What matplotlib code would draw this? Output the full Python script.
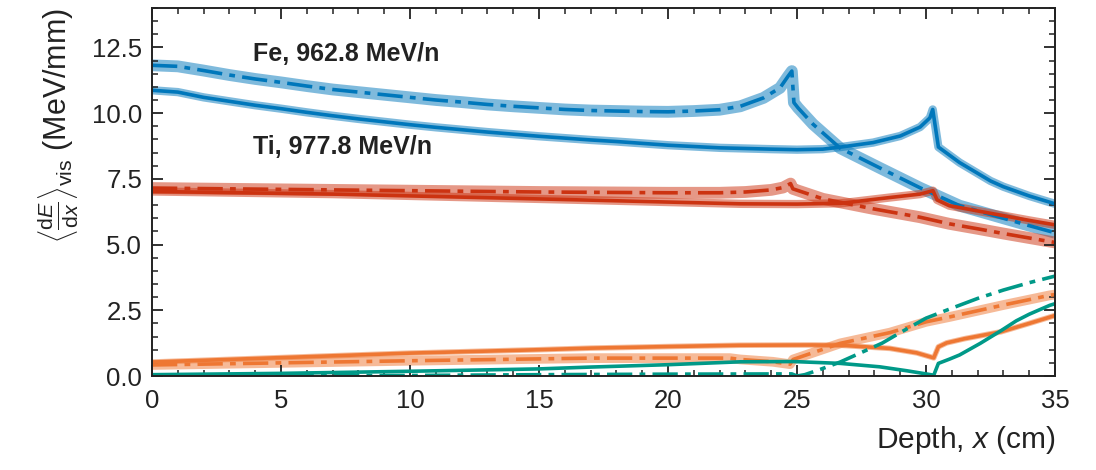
import matplotlib
matplotlib.use("Agg")
import matplotlib.pyplot as plt
from matplotlib.ticker import MultipleLocator

plt.rcParams['font.family'] = ['Liberation Sans', 'DejaVu Sans']
plt.rcParams['mathtext.fontset'] = 'custom'
plt.rcParams['mathtext.rm'] = 'Liberation Sans'
plt.rcParams['mathtext.it'] = 'Liberation Sans:italic'
plt.rcParams['mathtext.bf'] = 'Liberation Sans:bold'

# ---------------- data ----------------
fe_total_x = [0, 1, 2, 3, 4, 5, 6, 7, 8, 9, 10, 11, 12, 13, 14, 15, 16, 17, 18, 19, 20, 21, 22,
              22.8, 23.7, 24.34, 24.65, 24.8, 24.88, 25.04, 25.62, 26.67, 28.2, 29.77, 31.3, 33, 34, 35]
fe_total_y = [11.82, 11.78, 11.62, 11.45, 11.3, 11.17, 11.03, 10.9, 10.8, 10.7, 10.6, 10.5, 10.42,
              10.33, 10.26, 10.2, 10.14, 10.1, 10.08, 10.06, 10.05, 10.08, 10.13,
              10.26, 10.58, 10.96, 11.4, 11.6, 10.4, 10.2, 9.58, 8.67, 7.92, 7.16, 6.48, 6.0, 5.72, 5.45]

ti_total_x = [0, 1, 2, 3, 4, 5, 6, 7, 8, 9, 10, 11, 12, 13, 14, 15, 16, 17, 18, 19, 20, 21, 22,
              22.8, 24, 25, 26, 26.7, 27.95, 29, 29.77, 30.15, 30.26, 30.48, 31.3, 32.5, 33, 34, 35]
ti_total_y = [10.87, 10.8, 10.6, 10.45, 10.3, 10.17, 10.03, 9.9, 9.78, 9.67, 9.56, 9.46, 9.37,
              9.28, 9.2, 9.12, 9.05, 8.98, 8.92, 8.85, 8.78, 8.73, 8.68,
              8.66, 8.63, 8.61, 8.63, 8.71, 8.88, 9.13, 9.47, 9.82, 10.14, 8.71, 8.12, 7.42, 7.2, 6.85, 6.55]

fe_prim_x = [0, 5, 10, 15, 20, 22, 23, 24, 24.46, 24.75, 24.84, 26, 27.95, 29.77, 30.9, 32, 33, 34, 35]
fe_prim_y = [7.15, 7.1, 7.05, 7.0, 6.97, 6.97, 7.0, 7.08, 7.17, 7.32, 7.12, 6.74, 6.36, 6.04,
             5.79, 5.6, 5.42, 5.25, 5.08]

ti_prim_x = [0, 7, 17, 22.8, 25, 26.7, 28.6, 29.77, 30.27, 30.43, 30.9, 32, 33, 34, 35]
ti_prim_y = [7.02, 6.92, 6.69, 6.55, 6.54, 6.57, 6.79, 6.92, 7.05, 6.7, 6.48, 6.28, 6.1, 5.92, 5.75]

ti_frag_x = [0, 5, 10, 15, 17, 20, 22.8, 25.6, 26.7, 28.6, 29.64, 30.3, 30.48, 30.8, 31.5, 32.9, 34, 35]
ti_frag_y = [0.53, 0.7, 0.87, 1.0, 1.06, 1.12, 1.17, 1.18, 1.17, 1.05, 0.88, 0.69, 1.11, 1.26,
             1.42, 1.68, 2.0, 2.3]

fe_frag_x = [0, 5, 10, 17, 22.4, 22.8, 24.07, 24.73, 24.85, 26.67, 28.6, 30.0, 30.93, 33, 34.8, 35]
fe_frag_y = [0.42, 0.5, 0.58, 0.68, 0.68, 0.63, 0.54, 0.45, 0.63, 1.24, 1.65, 2.06, 2.25, 2.7, 3.07, 3.1]

ti_light_x = [0, 5, 10, 15, 17, 20, 22.8, 24.85, 26.67, 28.2, 29.25, 30.0, 30.3, 30.48, 30.93,
              31.3, 32.1, 32.9, 33.5, 34, 34.8, 35]
ti_light_y = [0.05, 0.1, 0.18, 0.27, 0.34, 0.43, 0.54, 0.55, 0.48, 0.35, 0.2, 0.08, 0.03, 0.48,
              0.65, 0.8, 1.24, 1.72, 2.1, 2.35, 2.69, 2.75]

fe_light_x = [0, 10, 15, 20, 24.8, 25.0, 25.3, 25.9, 26.67, 28.3, 29, 30, 31, 32, 33, 34, 35]
fe_light_y = [0.0, 0.02, 0.05, 0.07, 0.08, 0.0, 0.05, 0.25, 0.53, 1.25, 1.65, 2.2, 2.58, 2.95,
              3.27, 3.55, 3.8]

BLUE, RED, ORANGE, TEAL = '#0077BB', '#CC3311', '#EE7733', '#009988'
INK = '#222222'

fig = plt.figure(figsize=(10.96, 4.70), dpi=100)
ax = fig.add_axes([0.1387, 0.2, 0.8239, 0.783])

DD = (7, 2, 1.6, 2)

def draw(x, y, color, dash, band_lw=None, band_alpha=0.5):
    if band_lw:
        ax.plot(x, y, color=color, lw=band_lw, alpha=band_alpha, solid_capstyle='butt',
                solid_joinstyle='round', zorder=1)
    if dash:
        ax.plot(x, y, color=color, lw=2.6, dashes=DD, zorder=2)
    else:
        ax.plot(x, y, color=color, lw=2.6, zorder=2)

draw(fe_total_x, fe_total_y, BLUE, True, 8.5)
draw(ti_total_x, ti_total_y, BLUE, False, 6)
draw(fe_prim_x, fe_prim_y, RED, True, 8.5)
draw(ti_prim_x, ti_prim_y, RED, False, 6)
draw(fe_frag_x, fe_frag_y, ORANGE, True, 7)
draw(ti_frag_x, ti_frag_y, ORANGE, False, 4)
draw(fe_light_x, fe_light_y, TEAL, True)
draw(ti_light_x, ti_light_y, TEAL, False)

ax.text(3.9, 12.25, 'Fe, 962.8 MeV/n', fontsize=18, fontweight='bold', color=INK, va='center')
ax.text(3.9, 8.7, 'Ti, 977.8 MeV/n', fontsize=18, fontweight='bold', color=INK, va='center')

ax.set_xlim(0, 35)
ax.set_ylim(0, 14)
ax.xaxis.set_major_locator(MultipleLocator(5))
ax.xaxis.set_minor_locator(MultipleLocator(1))
ax.yaxis.set_major_locator(MultipleLocator(2.5))
ax.yaxis.set_minor_locator(MultipleLocator(0.5))
ax.tick_params(which='both', direction='in', top=True, right=True, color=INK,
               labelsize=18.5, labelcolor=INK)
ax.tick_params(which='major', length=8, width=1.3)
ax.tick_params(which='minor', length=4, width=1.1)
ax.tick_params(axis='x', which='major', pad=9)
ax.tick_params(axis='y', which='major', pad=7)
for s in ax.spines.values():
    s.set_linewidth(1.4)
    s.set_color(INK)

ax.set_xlabel('Depth, $x$ (cm)', fontsize=21.5, loc='right', color=INK, labelpad=8)
ax.set_ylabel(r'$\left\langle\frac{\mathrm{d}E}{\mathrm{d}x}\right\rangle_{\mathrm{vis}}$ (MeV/mm)',
              fontsize=22, color=INK, labelpad=8, loc='top')

fig.savefig('out.png', dpi=100)
